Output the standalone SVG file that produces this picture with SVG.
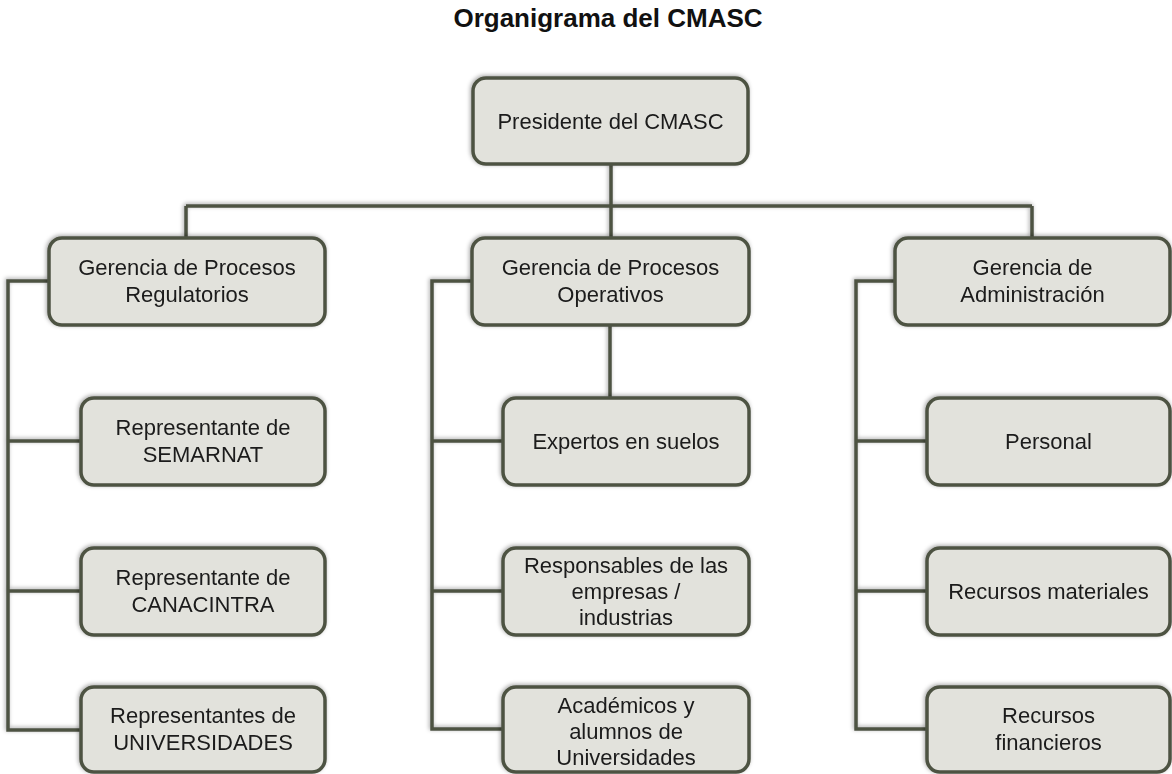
<svg xmlns="http://www.w3.org/2000/svg" width="1172" height="774" viewBox="0 0 1172 774">
<style>
.box{fill:#e2e2dc;stroke:#4e5243;stroke-width:3.5}
.t{font-family:"Liberation Sans",Arial,sans-serif;font-size:22px;fill:#1a1a1a;text-anchor:middle}
.title{font-family:"Liberation Sans",Arial,sans-serif;font-size:26px;font-weight:bold;fill:#111;text-anchor:middle}
.c{fill:none;stroke:#4e5243;stroke-width:3.5}
</style>
<defs>
<filter id="sh" x="-10%" y="-10%" width="120%" height="120%">
<feDropShadow dx="-1" dy="-1" stdDeviation="2" flood-color="#000" flood-opacity="0.35"/>
</filter>
</defs>
<rect width="1172" height="774" fill="#fff"/>
<text class="title" x="608" y="27">Organigrama del CMASC</text>
<g id="connectors" filter="url(#sh)">
<path class="c" d="M611,164V206M186,206H1032M186,206V238M611,206V238M1032,206V238"/>
<path class="c" d="M610,325V398"/>
<path class="c" d="M49,281H8V730H81M8,441H81M8,591H81"/>
<path class="c" d="M472,281H432V729H503M432,441H503M432,591H503"/>
<path class="c" d="M895,281H856V729H927M856,441H927M856,591H927"/>
</g>
<g id="n-presidente" filter="url(#sh)"><rect class="box" x="473" y="78" width="275" height="86" rx="13"/><text class="t" x="610.5" y="128.5">Presidente del CMASC</text></g>
<g id="n-gpr" filter="url(#sh)"><rect class="box" x="49" y="238" width="276" height="87" rx="13"/><text class="t" x="187" y="275">Gerencia de Procesos</text><text class="t" x="187" y="302">Regulatorios</text></g>
<g id="n-gpo" filter="url(#sh)"><rect class="box" x="472" y="238" width="277" height="87" rx="13"/><text class="t" x="610.5" y="275">Gerencia de Procesos</text><text class="t" x="610.5" y="302">Operativos</text></g>
<g id="n-ga" filter="url(#sh)"><rect class="box" x="895" y="238" width="275" height="87" rx="13"/><text class="t" x="1032.5" y="275">Gerencia de</text><text class="t" x="1032.5" y="302">Administración</text></g>
<g id="n-semarnat" filter="url(#sh)"><rect class="box" x="81" y="398" width="244" height="87" rx="13"/><text class="t" x="203" y="435">Representante de</text><text class="t" x="203" y="462">SEMARNAT</text></g>
<g id="n-canacintra" filter="url(#sh)"><rect class="box" x="81" y="548" width="244" height="87" rx="13"/><text class="t" x="203" y="585">Representante de</text><text class="t" x="203" y="612">CANACINTRA</text></g>
<g id="n-univ" filter="url(#sh)"><rect class="box" x="81" y="687" width="244" height="85" rx="13"/><text class="t" x="203" y="723">Representantes de</text><text class="t" x="203" y="750">UNIVERSIDADES</text></g>
<g id="n-expertos" filter="url(#sh)"><rect class="box" x="503" y="398" width="246" height="87" rx="13"/><text class="t" x="626" y="449">Expertos en suelos</text></g>
<g id="n-responsables" filter="url(#sh)"><rect class="box" x="503" y="548" width="246" height="87" rx="13"/><text class="t" x="626" y="573">Responsables de las</text><text class="t" x="626" y="599">empresas /</text><text class="t" x="626" y="625">industrias</text></g>
<g id="n-academicos" filter="url(#sh)"><rect class="box" x="503" y="687" width="246" height="85" rx="13"/><text class="t" x="626" y="713">Académicos y</text><text class="t" x="626" y="739">alumnos de</text><text class="t" x="626" y="765">Universidades</text></g>
<g id="n-personal" filter="url(#sh)"><rect class="box" x="927" y="398" width="243" height="87" rx="13"/><text class="t" x="1048.5" y="449">Personal</text></g>
<g id="n-materiales" filter="url(#sh)"><rect class="box" x="927" y="548" width="243" height="87" rx="13"/><text class="t" x="1048.5" y="599">Recursos materiales</text></g>
<g id="n-financieros" filter="url(#sh)"><rect class="box" x="927" y="687" width="243" height="85" rx="13"/><text class="t" x="1048.5" y="723">Recursos</text><text class="t" x="1048.5" y="750">financieros</text></g>
</svg>
